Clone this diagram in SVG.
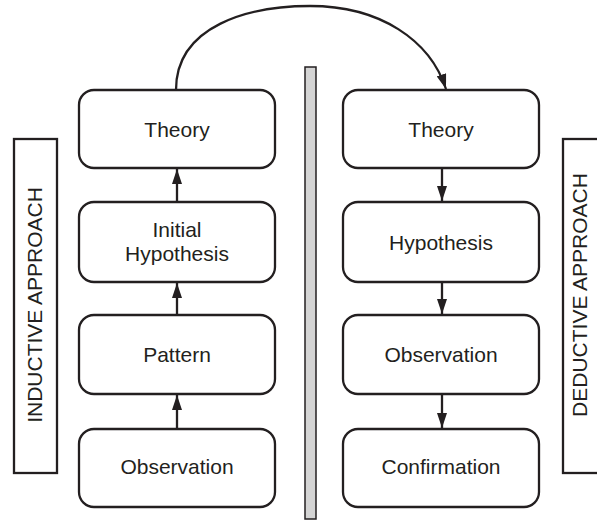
<svg xmlns="http://www.w3.org/2000/svg" width="597" height="521" viewBox="0 0 597 521">
<defs>
<style>
.box{fill:#fff;stroke:#231f20;stroke-width:2.3}
.lbl{fill:#fff;stroke:#231f20;stroke-width:2.3}
.t{font-family:"Liberation Sans",Arial,sans-serif;font-size:21px;fill:#231f20;text-anchor:middle}
.c{fill:none;stroke:#231f20;stroke-width:2.3}
</style>
<marker id="ah" viewBox="0 0 15 10" refX="15" refY="5" markerWidth="15" markerHeight="10" markerUnits="userSpaceOnUse" orient="auto">
<path d="M0,0 L15,5 L0,10 Z" fill="#231f20"/>
</marker>
</defs>
<rect x="0" y="0" width="597" height="521" fill="#fff"/>
<g id="divider"><rect x="305" y="67" width="11" height="452" fill="#d4d4d4" stroke="#231f20" stroke-width="1.5"/></g>
<g id="inductive-label"><rect class="lbl" x="14" y="139" width="43" height="334"/><text class="t" transform="translate(42,305) rotate(-90)">INDUCTIVE APPROACH</text></g>
<g id="deductive-label"><rect class="lbl" x="563" y="139" width="50" height="334"/><text class="t" transform="translate(587,295) rotate(-90)">DEDUCTIVE APPROACH</text></g>
<g id="ind-theory"><rect class="box" x="79" y="90" width="196" height="78" rx="15"/><text class="t" x="177" y="137">Theory</text></g>
<g id="ind-hypothesis"><rect class="box" x="79" y="202" width="196" height="80" rx="15"/><text class="t" x="177" y="237">Initial</text><text class="t" x="177" y="261">Hypothesis</text></g>
<g id="ind-pattern"><rect class="box" x="79" y="315" width="196" height="79" rx="15"/><text class="t" x="177" y="362">Pattern</text></g>
<g id="ind-observation"><rect class="box" x="79" y="429" width="196" height="78" rx="15"/><text class="t" x="177" y="474">Observation</text></g>
<g id="ded-theory"><rect class="box" x="343" y="90" width="196" height="78" rx="15"/><text class="t" x="441" y="137">Theory</text></g>
<g id="ded-hypothesis"><rect class="box" x="343" y="202" width="196" height="80" rx="15"/><text class="t" x="441" y="250">Hypothesis</text></g>
<g id="ded-observation"><rect class="box" x="343" y="315" width="196" height="79" rx="15"/><text class="t" x="441" y="362">Observation</text></g>
<g id="ded-confirmation"><rect class="box" x="343" y="429" width="196" height="78" rx="15"/><text class="t" x="441" y="474">Confirmation</text></g>
<g id="connectors">
<path class="c" d="M177,202 L177,169" marker-end="url(#ah)"/>
<path class="c" d="M177,315 L177,283" marker-end="url(#ah)"/>
<path class="c" d="M177,429 L177,395" marker-end="url(#ah)"/>
<path class="c" d="M442,168 L442,201" marker-end="url(#ah)"/>
<path class="c" d="M442,282 L442,314" marker-end="url(#ah)"/>
<path class="c" d="M442,394 L442,428" marker-end="url(#ah)"/>
<path class="c" d="M176,90 C176,25 250,6 310,6 C380,6 430,40 446,89" marker-end="url(#ah)"/>
</g>
</svg>
